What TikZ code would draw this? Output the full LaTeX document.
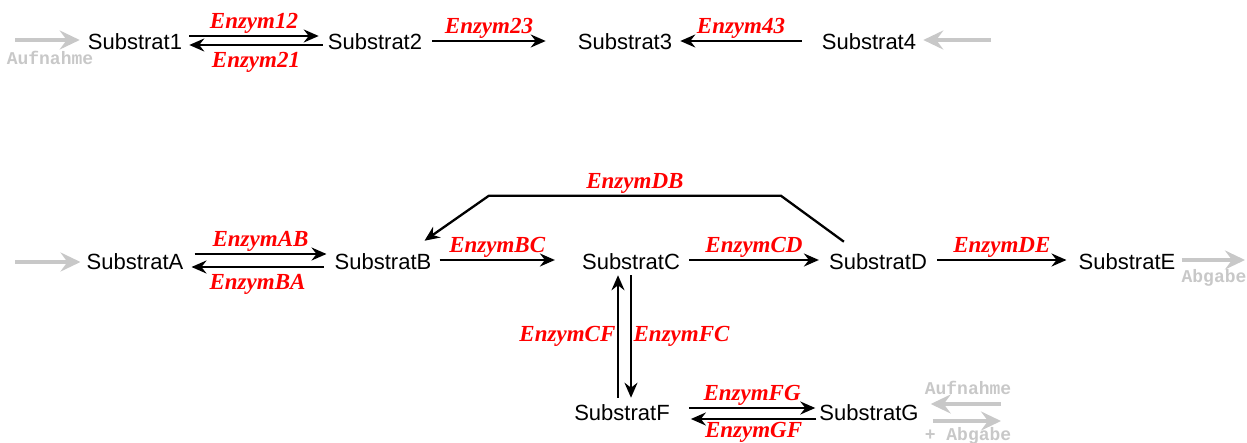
\documentclass[tikz,border=0pt]{standalone}
\usepackage{fontspec}
\setmainfont{Liberation Sans}
\newfontfamily\enzfont{Liberation Serif}
\newfontfamily\grayfont{Liberation Mono}
\usetikzlibrary{arrows.meta}
\definecolor{grayarr}{RGB}{200,200,200}
\definecolor{enzred}{RGB}{255,0,0}
\tikzset{
  sub/.style={inner sep=0pt, font=\fontsize{22}{22}\selectfont},
  lab/.style={inner sep=1.5pt, text=enzred, font=\enzfont\bfseries\itshape\fontsize{23}{23}\selectfont},
  labb/.style={lab, below=5pt},
  glab/.style={inner sep=0pt, text=grayarr, font=\grayfont\bfseries\fontsize{18}{18}\selectfont},
  rx/.style={line width=2.3pt, -{Stealth[length=15pt,width=13pt,inset=5pt]}},
  garr/.style={line width=3.8pt, draw=grayarr, -{Stealth[length=20pt,width=19pt,inset=7pt]}},
}
\begin{document}
\begin{tikzpicture}[x=1pt,y=-1pt]
\useasboundingbox (0,0) rectangle (1247,443);
% row 1
\node[sub] (s1) at (135,42) {Substrat1};
\node[sub] (s2) at (375,42) {Substrat2};
\node[sub] (s3) at (625,42) {Substrat3};
\node[sub] (s4) at (869,42) {Substrat4};
\coordinate (in1) at (15,40);
\coordinate (in4) at (991,40);
\draw[garr] (in1) -- ([xshift=-8pt,yshift=2pt]s1.west);
\node[glab] (au1) at (50,58) {Aufnahme};
\draw[garr] (in4) -- ([xshift=7pt,yshift=2pt]s4.east);
\draw[rx] ([xshift=7pt,yshift=6pt]s1.east) -- node[lab,above] (e12) {Enzym12} ([xshift=-9pt,yshift=6pt]s2.west);
\draw[rx] ([xshift=-5pt,yshift=-3pt]s2.west) -- node[labb] (e21) {Enzym21} ([xshift=7pt,yshift=-3pt]s1.east);
\draw[rx] ([xshift=10pt,yshift=1pt]s2.east) -- node[lab,above] (e23) {Enzym23} ([xshift=-32pt,yshift=1pt]s3.west);
\draw[rx] ([xshift=-20pt,yshift=1pt]s4.west) -- node[lab,above] (e43) {Enzym43} ([xshift=8pt,yshift=1pt]s3.east);
% row 2
\node[sub] (sa) at (135,262) {SubstratA};
\node[sub] (sb) at (383,262) {SubstratB};
\node[sub] (sc) at (631,262) {SubstratC};
\node[sub] (sd) at (878,262) {SubstratD};
\node[sub] (se) at (1127,262) {SubstratE};
\node[sub] (sf) at (622,413) {SubstratF};
\node[sub] (sg) at (869,413) {SubstratG};
\coordinate (ina) at (15,262);
\coordinate (oute) at (1245,260);
\draw[garr] (ina) -- ([xshift=-6pt]sa.west);
\draw[garr] ([xshift=6pt,yshift=2pt]se.east) -- (oute);
\node[glab] (ab) at (1214,278) {Abgabe};
\draw[rx] ([xshift=11pt,yshift=8pt]sa.east) -- node[lab,above] (eab) {EnzymAB} ([xshift=-8pt,yshift=8pt]sb.west);
\draw[rx] ([xshift=-11pt,yshift=-5pt]sb.west) -- node[labb] (eba) {EnzymBA} ([xshift=8pt,yshift=-5pt]sa.east);
\draw[rx] ([xshift=8pt,yshift=2pt]sb.east) -- node[lab,above] (ebc) {EnzymBC} ([xshift=-27pt,yshift=2pt]sc.west);
\draw[rx] ([xshift=9pt,yshift=2pt]sc.east) -- node[lab,above] (ecd) {EnzymCD} ([xshift=-10pt,yshift=2pt]sd.west);
\draw[rx] ([xshift=10pt,yshift=2pt]sd.east) -- node[lab,above] (ede) {EnzymDE} ([xshift=-12pt,yshift=2pt]se.west);
\draw[rx] ([xshift=15pt,yshift=12pt]sd.north west) -- ++(-63,-46) -- node[lab,above] (edb) {EnzymDB} ++(-292,0) -- ([xshift=-7pt,yshift=13pt]sb.north east);
% vertical
\draw[rx] ([xshift=-4pt,yshift=7pt]sf.north) -- node[lab,left] (ecf) {EnzymCF} ([xshift=-13pt,yshift=-5pt]sc.south);
\draw[rx] ([xshift=0pt,yshift=-5pt]sc.south) -- node[lab,right] (efc) {EnzymFC} ([xshift=9pt,yshift=7pt]sf.north);
% F-G
\draw[rx] ([xshift=19pt,yshift=5pt]sf.east) -- node[lab,above] (efg) {EnzymFG} ([xshift=-4pt,yshift=5pt]sg.west);
\draw[rx] ([xshift=-3pt,yshift=-6pt]sg.west) -- node[lab,below=0.5pt] (egf) {EnzymGF} ([xshift=21pt,yshift=-6pt]sf.east);
\coordinate (gt) at (1001,404);
\coordinate (gb) at (1001,421);
\draw[garr] (gt) -- ([xshift=12pt,yshift=9pt]sg.east);
\draw[garr] ([xshift=14pt,yshift=-8pt]sg.east) -- (gb);
\node[glab] (au2) at (968,388) {Aufnahme};
\node[glab] (ab2) at (968,436) {+ Abgabe};
\end{tikzpicture}
\end{document}
